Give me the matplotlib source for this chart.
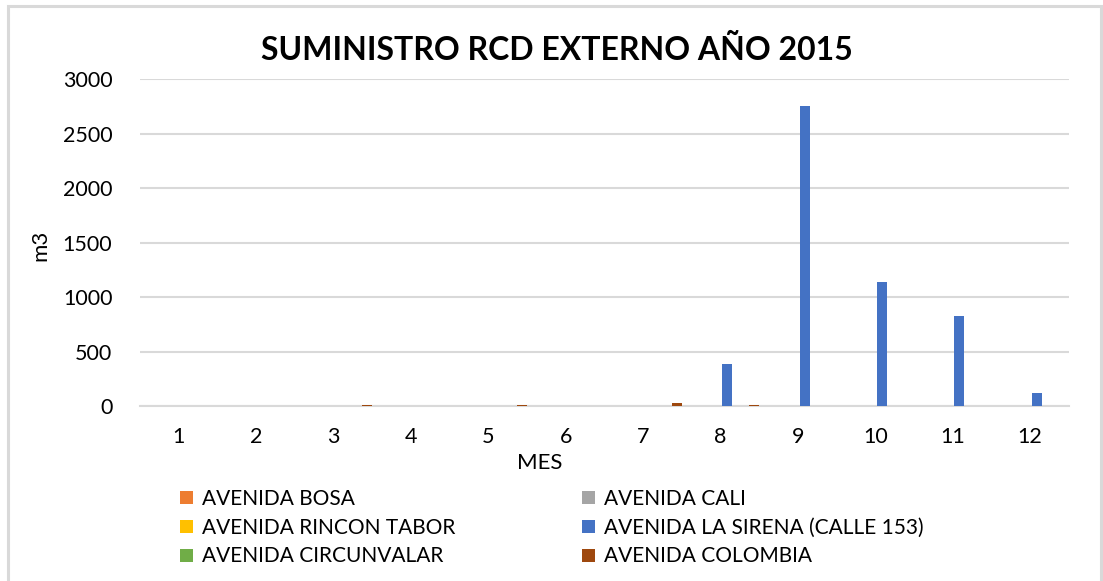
import matplotlib.pyplot as plt
from matplotlib.patches import Rectangle
import numpy as np

plt.rcParams["font.family"] = ["Lato", "DejaVu Sans"]

# -----------------------------------------------------------------------------
# Data (m3 per month)
# -----------------------------------------------------------------------------
months = np.arange(1, 13)
series_names = [
    "AVENIDA BOSA",
    "AVENIDA CALI",
    "AVENIDA RINCON TABOR",
    "AVENIDA LA SIRENA (CALLE 153)",
    "AVENIDA CIRCUNVALAR",
    "AVENIDA COLOMBIA",
]
bosa = [0, 0, 0, 0, 0, 0, 0, 0, 0, 0, 0, 0]
cali = [0, 0, 0, 0, 0, 0, 0, 0, 0, 0, 0, 0]
rincon_tabor = [0, 0, 0, 0, 0, 0, 0, 0, 0, 0, 0, 0]
la_sirena = [0, 0, 0, 0, 0, 0, 0, 390, 2750, 1135, 822, 120]
circunvalar = [0, 0, 0, 0, 0, 0, 0, 0, 0, 0, 0, 0]
colombia = [0, 0, 12, 0, 12, 0, 30, 12, 0, 0, 0, 0]
colors = ["#ED7D31", "#A5A5A5", "#FFC000", "#4472C4", "#70AD47", "#9E480E"]

data = [bosa, cali, rincon_tabor, la_sirena, circunvalar, colombia]

fig = plt.figure(figsize=(11.03, 5.81), dpi=100)
ax = fig.add_axes([0.127, 0.301, 0.842, 0.563])

# chart area border (Excel style)
fig.patches.append(Rectangle(
    (8 / 1103, -0.05), 1093 / 1103, 1.05 - 6 / 581,
    transform=fig.transFigure, fill=False, ec="#D9D9D9", lw=2.2,
))

step = 0.174
width = 0.13
handles = []
for i, (vals, c) in enumerate(zip(data, colors)):
    b = ax.bar(months + (i - 2.5) * step, vals, width, color=c,
               label=series_names[i], zorder=3)
    handles.append(b)

ax.set_xlim(0.5, 12.5)
ax.set_ylim(0, 3000)
ax.set_yticks(np.arange(0, 3001, 500))
ax.set_xticks(months)
ax.grid(axis="y", color="#D9D9D9", lw=1.5, zorder=0)
for s in ["top", "right", "left"]:
    ax.spines[s].set_visible(False)
ax.spines["bottom"].set_color("#D9D9D9")
ax.spines["bottom"].set_linewidth(1.5)
ax.tick_params(length=0, labelsize=15.5, colors="black")
ax.tick_params(axis="y", pad=20)
ax.tick_params(axis="x", pad=15)

fig.text(540 / 1103, 1 - 463 / 581, "MES", ha="center", va="center",
         fontsize=16)
fig.text(40 / 1103, 1 - 245 / 581, "m3", ha="center", va="center",
         fontsize=16, rotation=90)
fig.text(557 / 1103, 1 - 50 / 581, "SUMINISTRO RCD EXTERNO AÑO 2015",
         ha="center", va="center", fontsize=23, fontweight="bold")

order = [0, 2, 4, 1, 3, 5]
fig.legend([handles[k] for k in order], [series_names[k] for k in order],
           ncol=2, loc="upper left", bbox_to_anchor=(180 / 1103, 1 - 489 / 581),
           frameon=False, fontsize=15, handlelength=0.6, handleheight=0.6,
           handletextpad=0.45, columnspacing=6.1, labelspacing=0.42,
           borderaxespad=0, borderpad=0)

fig.savefig("out.png", dpi=100)
